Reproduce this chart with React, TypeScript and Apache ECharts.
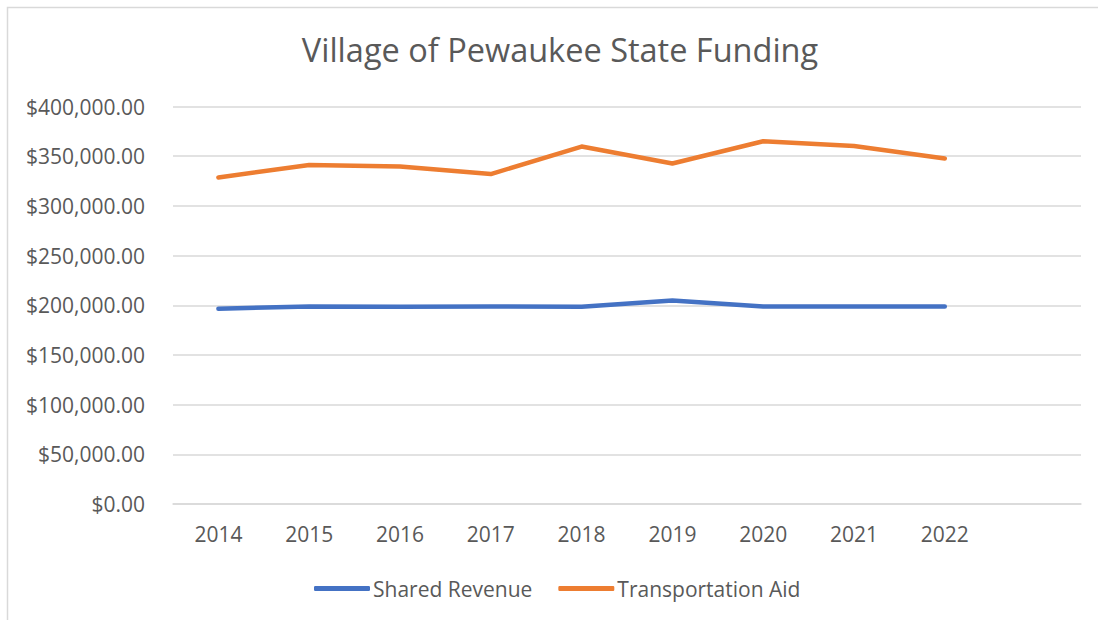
import React, { useEffect, useRef } from "react";
import * as echarts from "echarts";

const years = ["2014", "2015", "2016", "2017", "2018", "2019", "2020", "2021", "2022", ""];
const sharedRevenue = [196500, 198800, 198600, 198700, 198500, 204800, 198800, 198800, 198700];
const transportationAid = [328600, 341100, 339700, 332000, 359700, 342700, 365000, 360200, 347700];
const yTicks = { min: 0, max: 400000, interval: 50000 };

const FONT = "Open Sans";
const GREY = "#595959";

export default function App() {
  const ref = useRef<HTMLDivElement>(null);
  useEffect(() => {
    const chart = echarts.init(ref.current!, null, { renderer: "svg" });
    chart.setOption({
      animation: false,
      textStyle: { fontFamily: FONT },
      title: {
        text: "Village of Pewaukee State Funding",
        left: 555,
        textAlign: "center",
        top: 28,
        textStyle: { fontFamily: FONT, fontSize: 32.5, fontWeight: "normal", color: GREY },
      },
      graphic: [
        {
          type: "rect",
          shape: { x: 7.5, y: 7.5, width: 1200, height: 800 },
          style: { fill: "none", stroke: "#d9d9d9", lineWidth: 1.5 },
          silent: true,
          z: -10,
        },
      ],
      legend: {
        left: 309,
        top: 573,
        itemWidth: 56,
        itemHeight: 5,
        itemGap: 26,
        icon: "roundRect",
        textStyle: { fontFamily: FONT, fontSize: 21, color: GREY, padding: [0, 0, 0, -2] },
        data: ["Shared Revenue", "Transportation Aid"],
      },
      grid: { left: 173, right: 17, top: 106.5, bottom: 116, containLabel: false },
      xAxis: {
        type: "category",
        data: years,
        boundaryGap: true,
        axisLine: { show: true, lineStyle: { color: "#d9d9d9", width: 1.5 } },
        axisTick: { show: false },
        axisLabel: { color: GREY, fontFamily: FONT, fontSize: 21, margin: 19 },
      },
      yAxis: {
        type: "value",
        min: yTicks.min,
        max: yTicks.max,
        interval: yTicks.interval,
        axisLine: { show: false },
        axisTick: { show: false },
        splitLine: { lineStyle: { color: "#d9d9d9", width: 1.5 } },
        axisLabel: {
          color: GREY,
          fontFamily: FONT,
          fontSize: 21,
          margin: 28,
          formatter: (v: number) =>
            "$" + v.toLocaleString("en-US", { minimumFractionDigits: 2, maximumFractionDigits: 2 }),
        },
      },
      series: [
        {
          name: "Shared Revenue",
          type: "line",
          data: sharedRevenue,
          symbol: "none",
          color: "#4472c4",
          lineStyle: { width: 4.5, cap: "round", join: "round", color: "#4472c4" },
        },
        {
          name: "Transportation Aid",
          type: "line",
          data: transportationAid,
          symbol: "none",
          color: "#ed7d31",
          lineStyle: { width: 4.5, cap: "round", join: "round", color: "#ed7d31" },
        },
      ],
    });
    return () => chart.dispose();
  }, []);
  return (
    <div
      ref={ref}
      style={{ position: "absolute", left: 0, top: 0, width: 1098, height: 620, background: "#fff" }}
    />
  );
}
